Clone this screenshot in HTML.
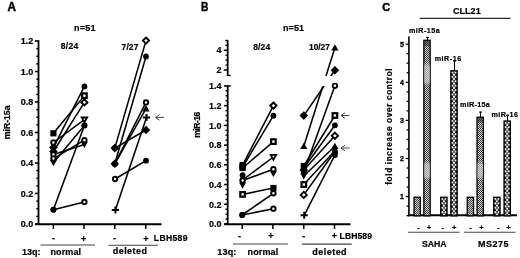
<!DOCTYPE html><html><head><meta charset="utf-8"><style>html,body{margin:0;padding:0;background:#fff;width:520px;height:258px;overflow:hidden}svg{display:block;font-family:"Liberation Sans", sans-serif;filter:grayscale(1)}</style></head><body>
<svg width="520" height="258" viewBox="0 0 520 258">
<rect width="520" height="258" fill="#fff"/>
<text x="7.4" y="11.3" font-size="12.2" font-weight="bold" text-anchor="start" fill="#000" textLength="8.5" lengthAdjust="spacingAndGlyphs" stroke="#000" stroke-width="0.5">A</text>
<text x="74" y="30.5" font-size="9" font-weight="bold" text-anchor="start" fill="#000" textLength="21.5" lengthAdjust="spacing" stroke="#000" stroke-width="0.2">n=51</text>
<text x="60.8" y="49.3" font-size="8.5" font-weight="bold" text-anchor="start" fill="#000" textLength="17.5" lengthAdjust="spacing" stroke="#000" stroke-width="0.2">8/24</text>
<text x="121.6" y="50.1" font-size="8.5" font-weight="bold" text-anchor="start" fill="#000" textLength="16.8" lengthAdjust="spacing" stroke="#000" stroke-width="0.2">7/27</text>
<line x1="38.5" y1="40.2" x2="38.5" y2="224.5" stroke="#000" stroke-width="1.8"/>
<line x1="34.9" y1="224.0" x2="38.5" y2="224.0" stroke="#000" stroke-width="1.6"/>
<line x1="34.9" y1="193.5" x2="38.5" y2="193.5" stroke="#000" stroke-width="1.6"/>
<line x1="34.9" y1="163.0" x2="38.5" y2="163.0" stroke="#000" stroke-width="1.6"/>
<line x1="34.9" y1="132.5" x2="38.5" y2="132.5" stroke="#000" stroke-width="1.6"/>
<line x1="34.9" y1="102.0" x2="38.5" y2="102.0" stroke="#000" stroke-width="1.6"/>
<line x1="34.9" y1="71.5" x2="38.5" y2="71.5" stroke="#000" stroke-width="1.6"/>
<line x1="34.9" y1="41.0" x2="38.5" y2="41.0" stroke="#000" stroke-width="1.6"/>
<line x1="36.3" y1="216.375" x2="38.5" y2="216.375" stroke="#000" stroke-width="1.4"/>
<line x1="36.3" y1="208.75" x2="38.5" y2="208.75" stroke="#000" stroke-width="1.4"/>
<line x1="36.3" y1="201.125" x2="38.5" y2="201.125" stroke="#000" stroke-width="1.4"/>
<line x1="36.3" y1="185.875" x2="38.5" y2="185.875" stroke="#000" stroke-width="1.4"/>
<line x1="36.3" y1="178.25" x2="38.5" y2="178.25" stroke="#000" stroke-width="1.4"/>
<line x1="36.3" y1="170.625" x2="38.5" y2="170.625" stroke="#000" stroke-width="1.4"/>
<line x1="36.3" y1="155.375" x2="38.5" y2="155.375" stroke="#000" stroke-width="1.4"/>
<line x1="36.3" y1="147.75" x2="38.5" y2="147.75" stroke="#000" stroke-width="1.4"/>
<line x1="36.3" y1="140.125" x2="38.5" y2="140.125" stroke="#000" stroke-width="1.4"/>
<line x1="36.3" y1="124.875" x2="38.5" y2="124.875" stroke="#000" stroke-width="1.4"/>
<line x1="36.3" y1="117.25" x2="38.5" y2="117.25" stroke="#000" stroke-width="1.4"/>
<line x1="36.3" y1="109.625" x2="38.5" y2="109.625" stroke="#000" stroke-width="1.4"/>
<line x1="36.3" y1="94.375" x2="38.5" y2="94.375" stroke="#000" stroke-width="1.4"/>
<line x1="36.3" y1="86.75" x2="38.5" y2="86.75" stroke="#000" stroke-width="1.4"/>
<line x1="36.3" y1="79.125" x2="38.5" y2="79.125" stroke="#000" stroke-width="1.4"/>
<line x1="36.3" y1="63.875" x2="38.5" y2="63.875" stroke="#000" stroke-width="1.4"/>
<line x1="36.3" y1="56.25" x2="38.5" y2="56.25" stroke="#000" stroke-width="1.4"/>
<line x1="36.3" y1="48.625" x2="38.5" y2="48.625" stroke="#000" stroke-width="1.4"/>
<line x1="35.0" y1="224.3" x2="161.5" y2="224.3" stroke="#000" stroke-width="1.9"/>
<line x1="53.4" y1="224" x2="53.4" y2="229" stroke="#000" stroke-width="1.5"/>
<line x1="84.0" y1="224" x2="84.0" y2="229" stroke="#000" stroke-width="1.5"/>
<line x1="114.8" y1="224" x2="114.8" y2="229" stroke="#000" stroke-width="1.5"/>
<line x1="145.8" y1="224" x2="145.8" y2="229" stroke="#000" stroke-width="1.5"/>
<text x="33.2" y="227.3" font-size="9.3" font-weight="bold" text-anchor="end" fill="#000" textLength="12.5" lengthAdjust="spacingAndGlyphs" stroke="#000" stroke-width="0.2">0.0</text>
<text x="33.2" y="196.8" font-size="9.3" font-weight="bold" text-anchor="end" fill="#000" textLength="12.5" lengthAdjust="spacingAndGlyphs" stroke="#000" stroke-width="0.2">0.2</text>
<text x="33.2" y="166.3" font-size="9.3" font-weight="bold" text-anchor="end" fill="#000" textLength="12.5" lengthAdjust="spacingAndGlyphs" stroke="#000" stroke-width="0.2">0.4</text>
<text x="33.2" y="135.8" font-size="9.3" font-weight="bold" text-anchor="end" fill="#000" textLength="12.5" lengthAdjust="spacingAndGlyphs" stroke="#000" stroke-width="0.2">0.6</text>
<text x="33.2" y="105.3" font-size="9.3" font-weight="bold" text-anchor="end" fill="#000" textLength="12.5" lengthAdjust="spacingAndGlyphs" stroke="#000" stroke-width="0.2">0.8</text>
<text x="33.2" y="74.8" font-size="9.3" font-weight="bold" text-anchor="end" fill="#000" textLength="12.5" lengthAdjust="spacingAndGlyphs" stroke="#000" stroke-width="0.2">1.0</text>
<text x="33.2" y="44.29999999999997" font-size="9.3" font-weight="bold" text-anchor="end" fill="#000" textLength="12.5" lengthAdjust="spacingAndGlyphs" stroke="#000" stroke-width="0.2">1.2</text>
<text transform="translate(10.4,122.3) rotate(-90)" x="0" y="0" font-size="8.8" font-weight="bold" text-anchor="middle" textLength="33.8" lengthAdjust="spacing" stroke="#000" stroke-width="0.2">miR-15a</text>
<line x1="53.40" y1="133.30" x2="84.40" y2="95.70" stroke="#000" stroke-width="1.55"/>
<line x1="53.40" y1="147.60" x2="84.40" y2="86.40" stroke="#000" stroke-width="1.55"/>
<line x1="53.40" y1="151.50" x2="84.40" y2="102.40" stroke="#000" stroke-width="1.55"/>
<line x1="53.40" y1="142.50" x2="84.40" y2="119.60" stroke="#000" stroke-width="1.55"/>
<line x1="53.40" y1="162.70" x2="84.40" y2="125.40" stroke="#000" stroke-width="1.55"/>
<line x1="53.40" y1="209.70" x2="84.40" y2="125.40" stroke="#000" stroke-width="1.55"/>
<line x1="53.40" y1="154.50" x2="84.40" y2="144.50" stroke="#000" stroke-width="1.55"/>
<line x1="53.40" y1="158.60" x2="84.40" y2="140.20" stroke="#000" stroke-width="1.55"/>
<line x1="53.40" y1="209.70" x2="84.40" y2="202.00" stroke="#000" stroke-width="1.55"/>
<line x1="114.80" y1="148.10" x2="146.00" y2="40.60" stroke="#000" stroke-width="1.55"/>
<line x1="114.80" y1="163.80" x2="146.00" y2="56.50" stroke="#000" stroke-width="1.55"/>
<line x1="114.80" y1="163.80" x2="146.00" y2="102.40" stroke="#000" stroke-width="1.55"/>
<line x1="114.80" y1="163.80" x2="146.00" y2="108.60" stroke="#000" stroke-width="1.55"/>
<line x1="115.40" y1="210.00" x2="146.50" y2="117.40" stroke="#000" stroke-width="1.55"/>
<line x1="114.80" y1="148.10" x2="146.00" y2="130.00" stroke="#000" stroke-width="1.55"/>
<line x1="115.10" y1="179.00" x2="146.00" y2="160.70" stroke="#000" stroke-width="1.55"/>
<rect x="50.3" y="130.20000000000002" width="6.2" height="6.2" fill="#000"/>
<rect x="82.10000000000001" y="93.4" width="4.6" height="4.6" fill="#fff" stroke="#000" stroke-width="2.2"/>
<polygon points="53.4,143.29999999999998 57.699999999999996,147.6 53.4,151.9 49.1,147.6" fill="#000"/>
<circle cx="84.4" cy="86.4" r="2.9" fill="#000"/>
<polygon points="53.4,147.2 57.699999999999996,151.5 53.4,155.8 49.1,151.5" fill="#000"/>
<polygon points="84.4,99.30000000000001 87.5,102.4 84.4,105.5 81.30000000000001,102.4" fill="#fff" stroke="#000" stroke-width="1.9"/>
<circle cx="53.4" cy="142.5" r="2.2" fill="#fff" stroke="#000" stroke-width="1.9"/>
<polygon points="81.7,117.5 87.10000000000001,117.5 84.4,122.19999999999999" fill="#fff" stroke="#000" stroke-width="1.8"/>
<polygon points="49.9,160.0 56.9,160.0 53.4,166.2" fill="#000"/>
<circle cx="84.4" cy="125.4" r="2.9" fill="#000"/>
<circle cx="53.4" cy="209.7" r="2.9" fill="#000"/>
<circle cx="84.4" cy="125.4" r="2.9" fill="#000"/>
<circle cx="53.4" cy="154.5" r="2.2" fill="#fff" stroke="#000" stroke-width="1.9"/>
<polygon points="80.9,141.8 87.9,141.8 84.4,148.0" fill="#000"/>
<circle cx="53.4" cy="158.6" r="2.2" fill="#fff" stroke="#000" stroke-width="1.9"/>
<circle cx="84.4" cy="140.2" r="2.2" fill="#fff" stroke="#000" stroke-width="1.9"/>
<circle cx="53.4" cy="209.7" r="2.9" fill="#000"/>
<circle cx="84.4" cy="202.0" r="2.2" fill="#fff" stroke="#000" stroke-width="1.9"/>
<polygon points="114.8,143.79999999999998 119.1,148.1 114.8,152.4 110.5,148.1" fill="#000"/>
<polygon points="146.0,37.5 149.1,40.6 146.0,43.7 142.9,40.6" fill="#fff" stroke="#000" stroke-width="1.9"/>
<polygon points="114.8,159.5 119.1,163.8 114.8,168.10000000000002 110.5,163.8" fill="#000"/>
<circle cx="146.0" cy="56.5" r="2.9" fill="#000"/>
<circle cx="114.8" cy="163.8" r="2.9" fill="#000"/>
<circle cx="146.0" cy="102.4" r="2.2" fill="#fff" stroke="#000" stroke-width="1.9"/>
<circle cx="114.8" cy="163.8" r="2.9" fill="#000"/>
<polygon points="142.4,111.39999999999999 149.6,111.39999999999999 146.0,105.0" fill="#000"/>
<path d="M111.8,210H118.99999999999999M115.39999999999999,206.5V213.5" stroke="#000" stroke-width="2.0" fill="none"/>
<path d="M142.9,117.4H150.1M146.5,113.9V120.9" stroke="#000" stroke-width="2.0" fill="none"/>
<circle cx="114.8" cy="148.1" r="2.9" fill="#000"/>
<polygon points="146.0,125.7 150.3,130 146.0,134.3 141.7,130" fill="#000"/>
<circle cx="115.1" cy="179" r="2.2" fill="#fff" stroke="#000" stroke-width="1.9"/>
<circle cx="146.0" cy="160.7" r="2.9" fill="#000"/>
<path d="M155.5,117.4H164.0M159.5,114.60000000000001L155.5,117.4L159.5,120.2" stroke="#333" stroke-width="0.9" fill="none"/>
<text x="53.5" y="241" font-size="9" font-weight="bold" text-anchor="middle" fill="#000" stroke="#000" stroke-width="0.2">-</text>
<text x="83.6" y="241.8" font-size="9" font-weight="bold" text-anchor="middle" fill="#000" stroke="#000" stroke-width="0.2">+</text>
<text x="114.6" y="241" font-size="9" font-weight="bold" text-anchor="middle" fill="#000" stroke="#000" stroke-width="0.2">-</text>
<text x="145.8" y="241.8" font-size="9" font-weight="bold" text-anchor="middle" fill="#000" stroke="#000" stroke-width="0.2">+</text>
<text x="153.8" y="240.9" font-size="8.6" font-weight="bold" text-anchor="start" fill="#000" textLength="33.7" lengthAdjust="spacing" stroke="#000" stroke-width="0.2">LBH589</text>
<line x1="40.6" y1="245" x2="95" y2="245" stroke="#444" stroke-width="1.1"/>
<line x1="108.5" y1="245.2" x2="158.1" y2="245.2" stroke="#444" stroke-width="1.1"/>
<text x="21.9" y="254.5" font-size="9" font-weight="bold" text-anchor="start" fill="#000" textLength="18.7" lengthAdjust="spacing" stroke="#000" stroke-width="0.2">13q:</text>
<text x="50.5" y="254.5" font-size="9" font-weight="bold" text-anchor="start" fill="#000" textLength="30.6" lengthAdjust="spacing" stroke="#000" stroke-width="0.2">normal</text>
<text x="112.8" y="254.4" font-size="9" font-weight="bold" text-anchor="start" fill="#000" textLength="34.1" lengthAdjust="spacing" stroke="#000" stroke-width="0.2">deleted</text>
<text x="201" y="11" font-size="12.0" font-weight="bold" text-anchor="start" fill="#000" textLength="7.4" lengthAdjust="spacingAndGlyphs" stroke="#000" stroke-width="0.45">B</text>
<text x="282.9" y="30.5" font-size="9" font-weight="bold" text-anchor="start" fill="#000" textLength="21.2" lengthAdjust="spacing" stroke="#000" stroke-width="0.2">n=51</text>
<text x="253.2" y="49.9" font-size="8.5" font-weight="bold" text-anchor="start" fill="#000" textLength="17" lengthAdjust="spacing" stroke="#000" stroke-width="0.2">8/24</text>
<text x="309" y="49.6" font-size="8.5" font-weight="bold" text-anchor="start" fill="#000" textLength="20.9" lengthAdjust="spacingAndGlyphs" stroke="#000" stroke-width="0.2">10/27</text>
<line x1="227.7" y1="40.3" x2="227.7" y2="75.9" stroke="#000" stroke-width="1.8"/>
<line x1="225.5" y1="40.6" x2="227.7" y2="40.6" stroke="#000" stroke-width="1.3"/>
<line x1="226.79999999999998" y1="75.5" x2="230.7" y2="75.5" stroke="#000" stroke-width="1.4"/>
<line x1="223.7" y1="70.0" x2="227.7" y2="70.0" stroke="#000" stroke-width="1.5"/>
<line x1="223.7" y1="50.3" x2="227.7" y2="50.3" stroke="#000" stroke-width="1.5"/>
<line x1="225.5" y1="65.075" x2="227.7" y2="65.075" stroke="#000" stroke-width="1.4"/>
<line x1="225.5" y1="60.15" x2="227.7" y2="60.15" stroke="#000" stroke-width="1.4"/>
<line x1="225.5" y1="55.225" x2="227.7" y2="55.225" stroke="#000" stroke-width="1.4"/>
<line x1="225.5" y1="45.375" x2="227.7" y2="45.375" stroke="#000" stroke-width="1.4"/>
<line x1="225.5" y1="40.45" x2="227.7" y2="40.45" stroke="#000" stroke-width="1.4"/>
<text x="221.5" y="52.8" font-size="9" font-weight="bold" text-anchor="end" fill="#000" stroke="#000" stroke-width="0.2">4</text>
<text x="221.5" y="73.2" font-size="9" font-weight="bold" text-anchor="end" fill="#000" stroke="#000" stroke-width="0.2">2</text>
<line x1="227.7" y1="85.36000000000001" x2="227.7" y2="224.5" stroke="#000" stroke-width="1.8"/>
<line x1="224.1" y1="224.0" x2="227.7" y2="224.0" stroke="#000" stroke-width="1.6"/>
<line x1="224.1" y1="204.28" x2="227.7" y2="204.28" stroke="#000" stroke-width="1.6"/>
<line x1="224.1" y1="184.56" x2="227.7" y2="184.56" stroke="#000" stroke-width="1.6"/>
<line x1="224.1" y1="164.84" x2="227.7" y2="164.84" stroke="#000" stroke-width="1.6"/>
<line x1="224.1" y1="145.12" x2="227.7" y2="145.12" stroke="#000" stroke-width="1.6"/>
<line x1="224.1" y1="125.4" x2="227.7" y2="125.4" stroke="#000" stroke-width="1.6"/>
<line x1="224.1" y1="105.68" x2="227.7" y2="105.68" stroke="#000" stroke-width="1.6"/>
<line x1="224.1" y1="85.96000000000001" x2="227.7" y2="85.96000000000001" stroke="#000" stroke-width="1.6"/>
<line x1="225.5" y1="219.07" x2="227.7" y2="219.07" stroke="#000" stroke-width="1.4"/>
<line x1="225.5" y1="214.14" x2="227.7" y2="214.14" stroke="#000" stroke-width="1.4"/>
<line x1="225.5" y1="209.21" x2="227.7" y2="209.21" stroke="#000" stroke-width="1.4"/>
<line x1="225.5" y1="199.35" x2="227.7" y2="199.35" stroke="#000" stroke-width="1.4"/>
<line x1="225.5" y1="194.42000000000002" x2="227.7" y2="194.42000000000002" stroke="#000" stroke-width="1.4"/>
<line x1="225.5" y1="189.49" x2="227.7" y2="189.49" stroke="#000" stroke-width="1.4"/>
<line x1="225.5" y1="179.63" x2="227.7" y2="179.63" stroke="#000" stroke-width="1.4"/>
<line x1="225.5" y1="174.7" x2="227.7" y2="174.7" stroke="#000" stroke-width="1.4"/>
<line x1="225.5" y1="169.76999999999998" x2="227.7" y2="169.76999999999998" stroke="#000" stroke-width="1.4"/>
<line x1="225.5" y1="159.91" x2="227.7" y2="159.91" stroke="#000" stroke-width="1.4"/>
<line x1="225.5" y1="154.98000000000002" x2="227.7" y2="154.98000000000002" stroke="#000" stroke-width="1.4"/>
<line x1="225.5" y1="150.05" x2="227.7" y2="150.05" stroke="#000" stroke-width="1.4"/>
<line x1="225.5" y1="140.19" x2="227.7" y2="140.19" stroke="#000" stroke-width="1.4"/>
<line x1="225.5" y1="135.26" x2="227.7" y2="135.26" stroke="#000" stroke-width="1.4"/>
<line x1="225.5" y1="130.33" x2="227.7" y2="130.33" stroke="#000" stroke-width="1.4"/>
<line x1="225.5" y1="120.47" x2="227.7" y2="120.47" stroke="#000" stroke-width="1.4"/>
<line x1="225.5" y1="115.53999999999999" x2="227.7" y2="115.53999999999999" stroke="#000" stroke-width="1.4"/>
<line x1="225.5" y1="110.61000000000001" x2="227.7" y2="110.61000000000001" stroke="#000" stroke-width="1.4"/>
<line x1="225.5" y1="100.75" x2="227.7" y2="100.75" stroke="#000" stroke-width="1.4"/>
<line x1="225.5" y1="95.82" x2="227.7" y2="95.82" stroke="#000" stroke-width="1.4"/>
<line x1="225.5" y1="90.88999999999999" x2="227.7" y2="90.88999999999999" stroke="#000" stroke-width="1.4"/>
<line x1="227.7" y1="85.96000000000001" x2="230.5" y2="85.96000000000001" stroke="#000" stroke-width="1.6"/>
<line x1="224.2" y1="224.3" x2="350.5" y2="224.3" stroke="#000" stroke-width="1.9"/>
<line x1="242.2" y1="224" x2="242.2" y2="229" stroke="#000" stroke-width="1.5"/>
<line x1="272.9" y1="224" x2="272.9" y2="229" stroke="#000" stroke-width="1.5"/>
<line x1="303.8" y1="224" x2="303.8" y2="229" stroke="#000" stroke-width="1.5"/>
<line x1="334.5" y1="224" x2="334.5" y2="229" stroke="#000" stroke-width="1.5"/>
<text x="221.6" y="227.3" font-size="9.3" font-weight="bold" text-anchor="end" fill="#000" textLength="12.5" lengthAdjust="spacingAndGlyphs" stroke="#000" stroke-width="0.2">0.0</text>
<text x="221.6" y="207.58" font-size="9.3" font-weight="bold" text-anchor="end" fill="#000" textLength="12.5" lengthAdjust="spacingAndGlyphs" stroke="#000" stroke-width="0.2">0.2</text>
<text x="221.6" y="187.86" font-size="9.3" font-weight="bold" text-anchor="end" fill="#000" textLength="12.5" lengthAdjust="spacingAndGlyphs" stroke="#000" stroke-width="0.2">0.4</text>
<text x="221.6" y="168.14000000000001" font-size="9.3" font-weight="bold" text-anchor="end" fill="#000" textLength="12.5" lengthAdjust="spacingAndGlyphs" stroke="#000" stroke-width="0.2">0.6</text>
<text x="221.6" y="148.42000000000002" font-size="9.3" font-weight="bold" text-anchor="end" fill="#000" textLength="12.5" lengthAdjust="spacingAndGlyphs" stroke="#000" stroke-width="0.2">0.8</text>
<text x="221.6" y="128.70000000000002" font-size="9.3" font-weight="bold" text-anchor="end" fill="#000" textLength="12.5" lengthAdjust="spacingAndGlyphs" stroke="#000" stroke-width="0.2">1.0</text>
<text x="221.6" y="108.97999999999999" font-size="9.3" font-weight="bold" text-anchor="end" fill="#000" textLength="12.5" lengthAdjust="spacingAndGlyphs" stroke="#000" stroke-width="0.2">1.2</text>
<text x="221.6" y="89.26" font-size="9.3" font-weight="bold" text-anchor="end" fill="#000" textLength="12.5" lengthAdjust="spacingAndGlyphs" stroke="#000" stroke-width="0.2">1.4</text>
<text transform="translate(200.3,124.7) rotate(-90)" x="0" y="0" font-size="8.6" font-weight="bold" text-anchor="middle" textLength="26.2" lengthAdjust="spacing" stroke="#000" stroke-width="0.2">miR-16</text>
<defs><clipPath id="brk"><rect x="0" y="0" width="520" height="76"/><rect x="0" y="86.2" width="520" height="200"/></clipPath></defs>
<line x1="242.60" y1="165.10" x2="273.40" y2="105.60" stroke="#000" stroke-width="1.55"/>
<line x1="242.60" y1="167.00" x2="273.40" y2="115.70" stroke="#000" stroke-width="1.55"/>
<line x1="242.60" y1="168.00" x2="273.40" y2="141.60" stroke="#000" stroke-width="1.55"/>
<line x1="242.60" y1="180.00" x2="273.40" y2="157.00" stroke="#000" stroke-width="1.55"/>
<line x1="242.60" y1="180.50" x2="273.40" y2="169.20" stroke="#000" stroke-width="1.55"/>
<line x1="242.60" y1="194.40" x2="273.40" y2="188.00" stroke="#000" stroke-width="1.55"/>
<line x1="242.20" y1="215.00" x2="273.40" y2="193.30" stroke="#000" stroke-width="1.55"/>
<line x1="242.20" y1="215.00" x2="273.40" y2="208.70" stroke="#000" stroke-width="1.55"/>
<g clip-path="url(#brk)">
<line x1="303.80" y1="146.30" x2="334.90" y2="47.80" stroke="#000" stroke-width="1.55"/>
<line x1="303.80" y1="115.60" x2="334.90" y2="70.20" stroke="#000" stroke-width="1.55"/>
<line x1="303.80" y1="172.00" x2="334.90" y2="85.80" stroke="#000" stroke-width="1.55"/>
<line x1="303.80" y1="166.00" x2="334.90" y2="115.50" stroke="#000" stroke-width="1.55"/>
<line x1="303.80" y1="168.00" x2="334.90" y2="125.30" stroke="#000" stroke-width="1.55"/>
<line x1="303.80" y1="170.00" x2="334.90" y2="135.80" stroke="#000" stroke-width="1.55"/>
<line x1="303.80" y1="176.00" x2="334.90" y2="146.30" stroke="#000" stroke-width="1.55"/>
<line x1="303.80" y1="184.50" x2="334.90" y2="150.80" stroke="#000" stroke-width="1.55"/>
<line x1="303.80" y1="194.90" x2="334.90" y2="151.50" stroke="#000" stroke-width="1.55"/>
<line x1="304.20" y1="215.30" x2="334.90" y2="155.00" stroke="#000" stroke-width="1.55"/>
</g>
<rect x="239.5" y="162.0" width="6.2" height="6.2" fill="#000"/>
<polygon points="273.4,102.5 276.5,105.6 273.4,108.69999999999999 270.29999999999995,105.6" fill="#fff" stroke="#000" stroke-width="1.9"/>
<rect x="239.5" y="163.9" width="6.2" height="6.2" fill="#000"/>
<circle cx="273.4" cy="115.7" r="2.9" fill="#000"/>
<rect x="239.5" y="164.9" width="6.2" height="6.2" fill="#000"/>
<rect x="271.09999999999997" y="139.29999999999998" width="4.6" height="4.6" fill="#fff" stroke="#000" stroke-width="2.2"/>
<circle cx="242.6" cy="180" r="2.9" fill="#000"/>
<polygon points="270.7,154.9 276.09999999999997,154.9 273.4,159.6" fill="#fff" stroke="#000" stroke-width="1.8"/>
<circle cx="242.6" cy="180.5" r="2.2" fill="#fff" stroke="#000" stroke-width="1.9"/>
<circle cx="273.4" cy="169.2" r="2.2" fill="#fff" stroke="#000" stroke-width="1.9"/>
<rect x="240.29999999999998" y="192.1" width="4.6" height="4.6" fill="#fff" stroke="#000" stroke-width="2.2"/>
<rect x="270.29999999999995" y="184.9" width="6.2" height="6.2" fill="#000"/>
<circle cx="242.2" cy="215" r="2.9" fill="#000"/>
<circle cx="273.4" cy="193.3" r="2.2" fill="#fff" stroke="#000" stroke-width="1.9"/>
<circle cx="242.2" cy="215" r="2.9" fill="#000"/>
<circle cx="273.4" cy="208.7" r="2.2" fill="#fff" stroke="#000" stroke-width="1.9"/>
<polygon points="300.2,149.10000000000002 307.40000000000003,149.10000000000002 303.8,142.70000000000002" fill="#000"/>
<polygon points="331.29999999999995,50.599999999999994 338.5,50.599999999999994 334.9,44.199999999999996" fill="#000"/>
<polygon points="303.8,111.3 308.1,115.6 303.8,119.89999999999999 299.5,115.6" fill="#000"/>
<polygon points="334.9,65.9 339.2,70.2 334.9,74.5 330.59999999999997,70.2" fill="#000"/>
<circle cx="303.8" cy="172" r="2.9" fill="#000"/>
<circle cx="334.9" cy="85.8" r="2.2" fill="#fff" stroke="#000" stroke-width="1.9"/>
<rect x="300.7" y="162.9" width="6.2" height="6.2" fill="#000"/>
<rect x="332.59999999999997" y="113.2" width="4.6" height="4.6" fill="#fff" stroke="#000" stroke-width="2.2"/>
<circle cx="303.8" cy="168" r="2.9" fill="#000"/>
<circle cx="334.9" cy="125.3" r="2.9" fill="#000"/>
<polygon points="303.8,165.7 308.1,170 303.8,174.3 299.5,170" fill="#000"/>
<polygon points="334.9,132.70000000000002 338.0,135.8 334.9,138.9 331.79999999999995,135.8" fill="#fff" stroke="#000" stroke-width="1.9"/>
<polygon points="300.3,173.3 307.3,173.3 303.8,179.5" fill="#000"/>
<polygon points="331.29999999999995,149.10000000000002 338.5,149.10000000000002 334.9,142.70000000000002" fill="#000"/>
<rect x="301.5" y="182.2" width="4.6" height="4.6" fill="#fff" stroke="#000" stroke-width="2.2"/>
<polygon points="331.29999999999995,153.60000000000002 338.5,153.60000000000002 334.9,147.20000000000002" fill="#000"/>
<polygon points="303.8,191.8 306.90000000000003,194.9 303.8,198.0 300.7,194.9" fill="#fff" stroke="#000" stroke-width="1.9"/>
<circle cx="334.9" cy="151.5" r="2.9" fill="#000"/>
<path d="M300.59999999999997,215.3H307.8M304.2,211.8V218.8" stroke="#000" stroke-width="2.0" fill="none"/>
<circle cx="334.9" cy="155" r="2.9" fill="#000"/>
<circle cx="242.6" cy="175.2" r="2.9" fill="#000"/>
<polygon points="239.1,182.60000000000002 246.1,182.60000000000002 242.6,188.8" fill="#000"/>
<polygon points="269.9,170.9 276.9,170.9 273.4,177.1" fill="#000"/>
<path d="M341,115.5H349.5M345,112.7L341,115.5L345,118.3" stroke="#333" stroke-width="0.9" fill="none"/>
<path d="M341,148H349.5M345,145.2L341,148L345,150.8" stroke="#333" stroke-width="0.9" fill="none"/>
<text x="239.4" y="238.6" font-size="9" font-weight="bold" text-anchor="middle" fill="#000" stroke="#000" stroke-width="0.2">-</text>
<text x="271" y="239.4" font-size="9" font-weight="bold" text-anchor="middle" fill="#000" stroke="#000" stroke-width="0.2">+</text>
<text x="303.7" y="238.6" font-size="9" font-weight="bold" text-anchor="middle" fill="#000" stroke="#000" stroke-width="0.2">-</text>
<text x="334.4" y="239.4" font-size="9" font-weight="bold" text-anchor="middle" fill="#000" stroke="#000" stroke-width="0.2">+</text>
<text x="339.6" y="239.2" font-size="8.6" font-weight="bold" text-anchor="start" fill="#000" textLength="32.4" lengthAdjust="spacing" stroke="#000" stroke-width="0.2">LBH589</text>
<line x1="232.9" y1="244" x2="287.9" y2="244" stroke="#444" stroke-width="1.1"/>
<line x1="301.9" y1="244.1" x2="351.7" y2="244.1" stroke="#444" stroke-width="1.1"/>
<text x="217.3" y="254.8" font-size="9" font-weight="bold" text-anchor="start" fill="#000" textLength="19" lengthAdjust="spacing" stroke="#000" stroke-width="0.2">13q:</text>
<text x="247.6" y="254.8" font-size="9" font-weight="bold" text-anchor="start" fill="#000" textLength="30.6" lengthAdjust="spacing" stroke="#000" stroke-width="0.2">normal</text>
<text x="312.3" y="255.2" font-size="9" font-weight="bold" text-anchor="start" fill="#000" textLength="34.3" lengthAdjust="spacing" stroke="#000" stroke-width="0.2">deleted</text>
<text x="382.2" y="10.7" font-size="11.5" font-weight="bold" text-anchor="start" fill="#000" textLength="7.9" lengthAdjust="spacingAndGlyphs" stroke="#000" stroke-width="0.45">C</text>
<text x="453" y="13.8" font-size="9.8" font-weight="bold" text-anchor="start" fill="#000" textLength="27.7" lengthAdjust="spacingAndGlyphs" stroke="#000" stroke-width="0.2">CLL21</text>
<line x1="419.8" y1="18.3" x2="510.4" y2="18.3" stroke="#2a2a2a" stroke-width="1.2"/>
<line x1="408.9" y1="36.4" x2="408.9" y2="216.3" stroke="#000" stroke-width="1.6"/>
<line x1="405.7" y1="196.6" x2="408.9" y2="196.6" stroke="#000" stroke-width="1.2"/>
<text x="404.0" y="199.1" font-size="7.0" font-weight="bold" text-anchor="end" fill="#000" stroke="#000" stroke-width="0.3">1</text>
<line x1="405.7" y1="158.5" x2="408.9" y2="158.5" stroke="#000" stroke-width="1.2"/>
<text x="404.0" y="161.0" font-size="7.0" font-weight="bold" text-anchor="end" fill="#000" stroke="#000" stroke-width="0.3">2</text>
<line x1="405.7" y1="120.39999999999999" x2="408.9" y2="120.39999999999999" stroke="#000" stroke-width="1.2"/>
<text x="404.0" y="122.89999999999999" font-size="7.0" font-weight="bold" text-anchor="end" fill="#000" stroke="#000" stroke-width="0.3">3</text>
<line x1="405.7" y1="82.29999999999998" x2="408.9" y2="82.29999999999998" stroke="#000" stroke-width="1.2"/>
<text x="404.0" y="84.79999999999998" font-size="7.0" font-weight="bold" text-anchor="end" fill="#000" stroke="#000" stroke-width="0.3">4</text>
<line x1="405.7" y1="44.19999999999999" x2="408.9" y2="44.19999999999999" stroke="#000" stroke-width="1.2"/>
<text x="404.0" y="46.69999999999999" font-size="7.0" font-weight="bold" text-anchor="end" fill="#000" stroke="#000" stroke-width="0.3">5</text>
<line x1="406.59999999999997" y1="215.65" x2="408.9" y2="215.65" stroke="#000" stroke-width="1.3"/>
<line x1="406.59999999999997" y1="206.12" x2="408.9" y2="206.12" stroke="#000" stroke-width="1.3"/>
<line x1="406.59999999999997" y1="187.07" x2="408.9" y2="187.07" stroke="#000" stroke-width="1.3"/>
<line x1="406.59999999999997" y1="177.55" x2="408.9" y2="177.55" stroke="#000" stroke-width="1.3"/>
<line x1="406.59999999999997" y1="168.02" x2="408.9" y2="168.02" stroke="#000" stroke-width="1.3"/>
<line x1="406.59999999999997" y1="148.97" x2="408.9" y2="148.97" stroke="#000" stroke-width="1.3"/>
<line x1="406.59999999999997" y1="139.45" x2="408.9" y2="139.45" stroke="#000" stroke-width="1.3"/>
<line x1="406.59999999999997" y1="129.93" x2="408.9" y2="129.93" stroke="#000" stroke-width="1.3"/>
<line x1="406.59999999999997" y1="110.87" x2="408.9" y2="110.87" stroke="#000" stroke-width="1.3"/>
<line x1="406.59999999999997" y1="101.35" x2="408.9" y2="101.35" stroke="#000" stroke-width="1.3"/>
<line x1="406.59999999999997" y1="91.82" x2="408.9" y2="91.82" stroke="#000" stroke-width="1.3"/>
<line x1="406.59999999999997" y1="72.77" x2="408.9" y2="72.77" stroke="#000" stroke-width="1.3"/>
<line x1="406.59999999999997" y1="63.25" x2="408.9" y2="63.25" stroke="#000" stroke-width="1.3"/>
<line x1="406.59999999999997" y1="53.72" x2="408.9" y2="53.72" stroke="#000" stroke-width="1.3"/>
<line x1="408.09999999999997" y1="215.2" x2="517" y2="215.2" stroke="#000" stroke-width="2"/>
<text transform="translate(392.0,126.6) rotate(-90)" x="0" y="0" font-size="8.2" font-weight="bold" text-anchor="middle" textLength="116.4" lengthAdjust="spacing" stroke="#000" stroke-width="0.2">fold increase over control</text>
<defs>
<pattern id="p0" x="0" y="0" width="2" height="2" patternUnits="userSpaceOnUse"><rect width="2" height="2" fill="#c4c4c4"/><rect width="1" height="1" fill="#4a4a4a"/><rect x="1" y="1" width="1" height="1" fill="#4a4a4a"/></pattern>
<pattern id="p1" x="0" y="0" width="2" height="2" patternUnits="userSpaceOnUse"><rect width="2" height="2" fill="#d2d2d2"/><rect width="1" height="1" fill="#3a3a3a"/><rect x="1" y="1" width="1" height="1" fill="#3a3a3a"/></pattern>
<pattern id="p2" x="440.10" y="197.90" width="7.6" height="4.4" patternUnits="userSpaceOnUse"><rect width="7.6" height="4.4" fill="#0a0a0a"/><circle cx="2.0999999999999996" cy="1.1" r="1.1" fill="#fff"/><circle cx="5.5" cy="1.1" r="1.1" fill="#fff"/><circle cx="3.8" cy="3.3" r="1.1" fill="#fff"/></pattern>
<pattern id="p3" x="450.20" y="71.41" width="7.6" height="4.4" patternUnits="userSpaceOnUse"><rect width="7.6" height="4.4" fill="#0a0a0a"/><circle cx="2.0999999999999996" cy="1.1" r="1.1" fill="#fff"/><circle cx="5.5" cy="1.1" r="1.1" fill="#fff"/><circle cx="3.8" cy="3.3" r="1.1" fill="#fff"/></pattern>
<pattern id="p4" x="0" y="0" width="2" height="2" patternUnits="userSpaceOnUse"><rect width="2" height="2" fill="#c4c4c4"/><rect width="1" height="1" fill="#4a4a4a"/><rect x="1" y="1" width="1" height="1" fill="#4a4a4a"/></pattern>
<pattern id="p5" x="0" y="0" width="2" height="2" patternUnits="userSpaceOnUse"><rect width="2" height="2" fill="#d2d2d2"/><rect width="1" height="1" fill="#3a3a3a"/><rect x="1" y="1" width="1" height="1" fill="#3a3a3a"/></pattern>
<pattern id="p6" x="493.10" y="197.90" width="7.6" height="4.4" patternUnits="userSpaceOnUse"><rect width="7.6" height="4.4" fill="#0a0a0a"/><circle cx="2.0999999999999996" cy="1.1" r="1.1" fill="#fff"/><circle cx="5.5" cy="1.1" r="1.1" fill="#fff"/><circle cx="3.8" cy="3.3" r="1.1" fill="#fff"/></pattern>
<pattern id="p7" x="503.40" y="121.70" width="7.6" height="4.4" patternUnits="userSpaceOnUse"><rect width="7.6" height="4.4" fill="#0a0a0a"/><circle cx="2.0999999999999996" cy="1.1" r="1.1" fill="#fff"/><circle cx="5.5" cy="1.1" r="1.1" fill="#fff"/><circle cx="3.8" cy="3.3" r="1.1" fill="#fff"/></pattern>
</defs>
<rect x="414.05" y="197.25" width="6.30" height="18.60" fill="url(#p0)" stroke="#000" stroke-width="1.3"/>
<line x1="427.5" y1="36.9" x2="427.5" y2="42.627999999999986" stroke="#000" stroke-width="1.1"/>
<line x1="426.0" y1="37.4" x2="429.0" y2="37.4" stroke="#000" stroke-width="1.0"/>
<rect x="423.85" y="40.28" width="6.30" height="175.57" fill="url(#p1)" stroke="#000" stroke-width="1.3"/>
<rect x="440.75" y="197.25" width="6.30" height="18.60" fill="url(#p2)" stroke="#000" stroke-width="1.3"/>
<line x1="454.5" y1="60.5" x2="454.5" y2="73.10799999999998" stroke="#000" stroke-width="1.1"/>
<line x1="453.0" y1="61.0" x2="456.0" y2="61.0" stroke="#000" stroke-width="1.0"/>
<rect x="450.85" y="70.76" width="6.30" height="145.09" fill="url(#p3)" stroke="#000" stroke-width="1.3"/>
<rect x="467.25" y="197.25" width="6.30" height="18.60" fill="url(#p4)" stroke="#000" stroke-width="1.3"/>
<line x1="480.5" y1="111.6" x2="480.5" y2="119.58999999999999" stroke="#000" stroke-width="1.1"/>
<line x1="479.0" y1="112.1" x2="482.0" y2="112.1" stroke="#000" stroke-width="1.0"/>
<rect x="477.05" y="117.24" width="6.30" height="98.61" fill="url(#p5)" stroke="#000" stroke-width="1.3"/>
<rect x="493.75" y="197.25" width="6.30" height="18.60" fill="url(#p6)" stroke="#000" stroke-width="1.3"/>
<line x1="507.5" y1="114.7" x2="507.5" y2="123.39999999999999" stroke="#000" stroke-width="1.1"/>
<line x1="506.0" y1="115.2" x2="509.0" y2="115.2" stroke="#000" stroke-width="1.0"/>
<rect x="504.05" y="121.05" width="6.30" height="94.80" fill="url(#p7)" stroke="#000" stroke-width="1.3"/>
<defs><linearGradient id="lg" x1="0" y1="0" x2="0" y2="1"><stop offset="0" stop-color="#d0d0d0" stop-opacity="0"/><stop offset="0.2" stop-color="#d0d0d0" stop-opacity="0.7"/><stop offset="0.8" stop-color="#d0d0d0" stop-opacity="0.7"/><stop offset="1" stop-color="#d0d0d0" stop-opacity="0"/></linearGradient></defs>
<rect x="424.1" y="161" width="5.8" height="19" fill="url(#lg)"/>
<rect x="477.3" y="161" width="5.8" height="19" fill="url(#lg)"/>
<rect x="424.1" y="62" width="5.8" height="24" fill="url(#lg)"/>
<rect x="424.1" y="40" width="5.8" height="6" fill="#222" opacity="0.5"/>
<rect x="477.3" y="117.5" width="5.8" height="5" fill="#222" opacity="0.5"/>
<text x="409" y="32.8" font-size="7.2" font-weight="bold" text-anchor="start" fill="#000" textLength="30.8" lengthAdjust="spacing" stroke="#000" stroke-width="0.2">miR-15a</text>
<text x="434.7" y="61" font-size="7.2" font-weight="bold" text-anchor="start" fill="#000" textLength="26.5" lengthAdjust="spacing" stroke="#000" stroke-width="0.2">miR-16</text>
<text x="460" y="106.9" font-size="7.2" font-weight="bold" text-anchor="start" fill="#000" textLength="29.8" lengthAdjust="spacing" stroke="#000" stroke-width="0.2">miR-15a</text>
<text x="491.4" y="116.7" font-size="7.2" font-weight="bold" text-anchor="start" fill="#000" textLength="26.6" lengthAdjust="spacing" stroke="#000" stroke-width="0.2">miR-16</text>
<text x="418.5" y="229.6" font-size="7.6" font-weight="bold" text-anchor="middle" fill="#000" stroke="#000" stroke-width="0.2">-</text>
<text x="428.9" y="229.6" font-size="7.6" font-weight="bold" text-anchor="middle" fill="#000" stroke="#000" stroke-width="0.2">+</text>
<text x="442.7" y="229.6" font-size="7.6" font-weight="bold" text-anchor="middle" fill="#000" stroke="#000" stroke-width="0.2">-</text>
<text x="454.3" y="229.6" font-size="7.6" font-weight="bold" text-anchor="middle" fill="#000" stroke="#000" stroke-width="0.2">+</text>
<text x="470.4" y="229.6" font-size="7.6" font-weight="bold" text-anchor="middle" fill="#000" stroke="#000" stroke-width="0.2">-</text>
<text x="481.5" y="229.6" font-size="7.6" font-weight="bold" text-anchor="middle" fill="#000" stroke="#000" stroke-width="0.2">+</text>
<text x="498.2" y="229.6" font-size="7.6" font-weight="bold" text-anchor="middle" fill="#000" stroke="#000" stroke-width="0.2">-</text>
<text x="508.5" y="229.6" font-size="7.6" font-weight="bold" text-anchor="middle" fill="#000" stroke="#000" stroke-width="0.2">+</text>
<line x1="408.1" y1="232.2" x2="459.6" y2="232.2" stroke="#444" stroke-width="1.1"/>
<line x1="464.2" y1="232.2" x2="515.5" y2="232.2" stroke="#444" stroke-width="1.1"/>
<text x="421.9" y="247.3" font-size="9" font-weight="bold" text-anchor="start" fill="#000" textLength="24.8" lengthAdjust="spacingAndGlyphs" stroke="#000" stroke-width="0.2">SAHA</text>
<text x="478" y="247.3" font-size="9" font-weight="bold" text-anchor="start" fill="#000" textLength="30.5" lengthAdjust="spacing" stroke="#000" stroke-width="0.2">MS275</text>
</svg></body></html>
